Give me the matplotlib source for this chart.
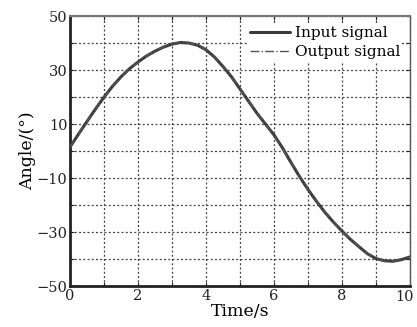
# Input / output angle tracking over 10 s
import numpy as np
import matplotlib.pyplot as plt
from matplotlib.ticker import MultipleLocator, FuncFormatter

plt.rcParams['font.family'] = ['DejaVu Serif']

# angle readings (degrees) every 0.25 s
time_s = [0, 0.25, 0.5, 0.75, 1, 1.25, 1.5, 1.75, 2, 2.25, 2.5, 2.75, 3, 3.25,
          3.5, 3.75, 4, 4.25, 4.5, 4.75, 5, 5.25, 5.5, 5.75, 6, 6.25, 6.5,
          6.75, 7, 7.25, 7.5, 7.75, 8, 8.25, 8.5, 8.75, 9, 9.25, 9.5, 9.75, 10]
input_deg = [1.5, 6.3, 11, 15.6, 20, 24, 27.5, 30.5, 33, 35.2, 37, 38.5, 39.6, 40.2,
             40, 39.2, 37.5, 34.8, 31.3, 27.5, 23, 18.5, 14, 10, 6, 1.2, -4.2,
             -9.4, -14.2, -18.6, -22.7, -26.3, -29.6, -32.7, -35.4, -38, -39.8,
             -40.6, -40.8, -40.2, -39.2]
output_deg = [1.5, 6.3, 11, 15.6, 20, 24, 27.5, 30.5, 33, 35.2, 37, 38.5, 39.6, 40.2,
              40, 39.2, 37.5, 34.8, 31.3, 27.5, 23, 18.5, 14, 10, 6, 1.2, -4.2,
              -9.4, -14.2, -18.6, -22.7, -26.3, -29.6, -32.7, -35.4, -38, -39.8,
              -40.6, -40.8, -40.2, -39.2]

y_labels = [-50, -30, -10, 10, 30, 50]
x_labels = [0, 2, 4, 6, 8, 10]
tick_fs = 10.5

fig = plt.figure(figsize=(4.17, 3.27), dpi=100)
ax = fig.add_axes([0.168, 0.125, 0.815, 0.826])

ax.plot(time_s, input_deg, color='#3a3a3a', lw=2.2, solid_capstyle='round',
        label='Input signal', zorder=3)
ax.plot(time_s, output_deg, color='#555555', lw=1.0, ls='-.',
        label='Output signal', zorder=4)

ax.set_xlim(0, 10)
ax.set_ylim(-50, 50)

# the right-most x label is drawn separately, nudged left to stay on the canvas
ax.xaxis.set_major_locator(MultipleLocator(1))
ax.yaxis.set_major_locator(MultipleLocator(10))
ax.xaxis.set_major_formatter(FuncFormatter(
    lambda v, p: f'{v:g}' if round(v) in x_labels[:-1] else ''))
ax.yaxis.set_major_formatter(FuncFormatter(
    lambda v, p: f'{v:g}'.replace('-', '\u2212') if round(v) in y_labels else ''))
ax.annotate(f'{x_labels[-1]}', xy=(x_labels[-1], 0),
            xycoords=('data', 'axes fraction'), xytext=(-4, -2.9),
            textcoords='offset points', ha='center', va='top',
            fontsize=tick_fs, color='#222222')

ax.grid(True, color='#444444', ls=(0, (1.6, 1.8)), lw=0.9)
ax.tick_params(direction='in', length=3, width=0.8, labelsize=tick_fs,
               top=True, right=True, colors='#222222', pad=2)

for side in ['left', 'bottom']:
    ax.spines[side].set_linewidth(2.0)
    ax.spines[side].set_color('#222222')
ax.spines['top'].set_linewidth(1.6)
ax.spines['top'].set_color('#777777')
ax.spines['right'].set_linewidth(1.0)
ax.spines['right'].set_color('#555555')

ax.set_xlabel('Time/s', fontsize=12.5, labelpad=0)
ax.set_ylabel('Angle/(°)', fontsize=12.5, labelpad=0)

leg = ax.legend(loc='upper right', fontsize=11, frameon=True, fancybox=False,
                handlelength=2.6, handletextpad=0.3, borderaxespad=0.5,
                borderpad=0.15, labelspacing=0.35)
leg.get_frame().set_edgecolor('none')
leg.get_frame().set_facecolor('white')
leg.get_frame().set_alpha(1.0)

fig.savefig('out.png', dpi=100)
